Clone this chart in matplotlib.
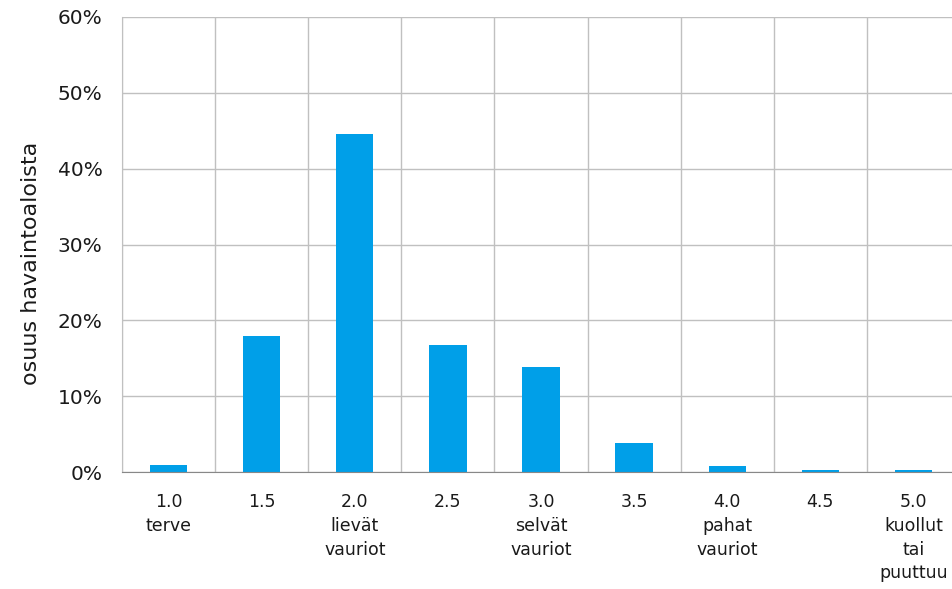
import matplotlib
matplotlib.use("Agg")
import matplotlib.pyplot as plt
from matplotlib.ticker import FuncFormatter, MultipleLocator

plt.rcParams['font.family'] = ['DejaVu Sans']

categories = ["1.0\nterve", "1.5", "2.0\nlievät\nvauriot", "2.5",
              "3.0\nselvät\nvauriot", "3.5", "4.0\npahat\nvauriot", "4.5",
              "5.0\nkuollut\ntai\npuuttuu"]
shares = [0.9, 17.9, 44.6, 16.8, 13.8, 3.8, 0.8, 0.2, 0.2]
ylabel = "osuus havaintoaloista"

fig = plt.figure(figsize=(9.52, 5.89), dpi=100)
ax = fig.add_axes([122 / 952, 1 - 472 / 589, 838 / 952, (472 - 17) / 589])

x = list(range(len(categories)))
ax.bar(x, shares, width=0.4, color="#009FE8", zorder=3)

ax.set_xlim(-0.5, len(categories) - 0.5)
ax.set_ylim(0, 60)
ax.yaxis.set_major_locator(MultipleLocator(10))
ax.yaxis.set_major_formatter(FuncFormatter(lambda v, p: f"{v:.0f}%"))

# vertical grid at category boundaries
for b in range(len(categories) + 1):
    ax.axvline(b - 0.5, color="#c0c0c0", lw=1.0, zorder=1)
ax.yaxis.grid(True, color="#c0c0c0", lw=1.0, zorder=1)

ax.set_xticks(x)
ax.set_xticklabels(categories, fontsize=12.5, linespacing=1.42, va="top",
                   color="#1a1a1a")
ax.tick_params(axis="x", length=0, pad=15)
ax.tick_params(axis="y", length=0, pad=14, labelsize=14.5, labelcolor="#1a1a1a")

for s in ["top", "right"]:
    ax.spines[s].set_visible(False)
ax.spines["left"].set_color("#c0c0c0")
ax.spines["bottom"].set_color("#888888")
ax.spines["bottom"].set_zorder(4)

fig.text(31 / 952, 1 - 263 / 589, ylabel, rotation=90, fontsize=16,
         ha="center", va="center", color="#1a1a1a")

fig.savefig("out.png", dpi=100)
